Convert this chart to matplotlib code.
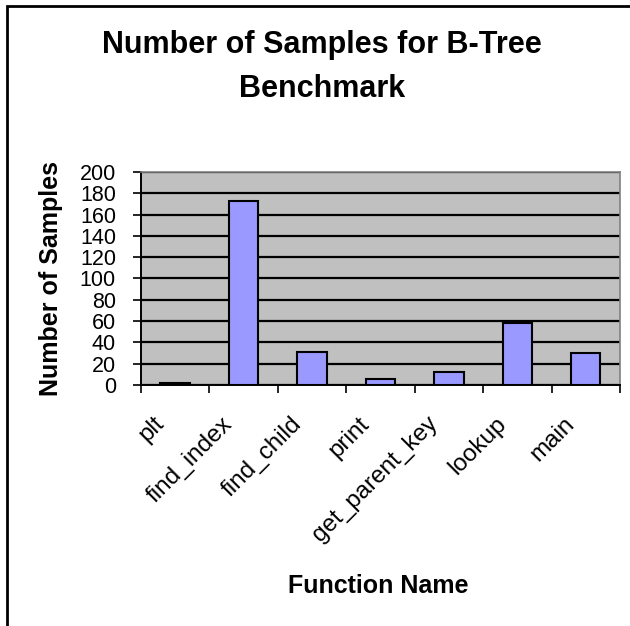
"""Number of samples per function, B-Tree benchmark"""

import numpy as np
import matplotlib.pyplot as plt
import matplotlib.transforms as mtransforms
from matplotlib.patches import Rectangle

plt.rcParams['font.family'] = ['Liberation Sans', 'DejaVu Sans']

# Data
functions = ['plt', 'find_index', 'find_child', 'print',
             'get_parent_key', 'lookup', 'main']
samples = [2, 173, 31, 6, 12, 58, 30]
y_ticks = list(range(0, 201, 20))

fig = plt.figure(figsize=(6.3, 6.26), dpi=100)
ax = fig.add_axes([0.2238, 0.385, 0.7603, 0.3403])

x = np.arange(len(functions))
ax.set_facecolor('#C0C0C0')
ax.bar(x, samples, width=0.43, color='#9999FF', edgecolor='black',
       linewidth=1.5, zorder=3)

# horizontal gridlines, Excel style
ax.set_ylim(0, 200)
ax.set_yticks(y_ticks)
ax.yaxis.grid(True, color='black', linewidth=1.6, zorder=1)
ax.set_axisbelow(True)
ax.tick_params(axis='y', direction='out', length=6, width=1.2,
               labelsize=15.5, pad=12)

# categories: labels at centres, ticks at boundaries
ax.set_xlim(-0.5, len(functions) - 0.5)
ax.set_xticks(x)
ax.set_xticklabels(functions, rotation=45, ha='right', va='top',
                   rotation_mode='anchor', fontsize=17.5)
ax.tick_params(axis='x', which='major', length=0, pad=20)
shift = mtransforms.ScaledTranslation(-22 / 100, 0, fig.dpi_scale_trans)
for lbl in ax.get_xticklabels():
    lbl.set_transform(lbl.get_transform() + shift)
ax.set_xticks(np.arange(-0.5, len(functions), 1), minor=True)
ax.tick_params(axis='x', which='minor', direction='out', length=6, width=1.2)

for side in ('top', 'right'):
    ax.spines[side].set_color('#808080')
    ax.spines[side].set_linewidth(1.2)
for side in ('left', 'bottom'):
    ax.spines[side].set_color('black')
    ax.spines[side].set_linewidth(1.4)

ax.set_ylabel('Number of Samples', fontsize=18, fontweight='bold', labelpad=12)
fig.text(0.601, 1 - 586 / 626, 'Function Name', fontsize=18,
         fontweight='bold', ha='center', va='center')
fig.text(0.511, 1 - 67 / 626, 'Number of Samples for B-Tree\nBenchmark',
         fontsize=22, fontweight='bold', ha='center', va='center',
         linespacing=1.6)

# chart-area border (cut off at right and bottom, as in the source)
fig.patches.append(Rectangle((7 / 630, -0.1), 1.2, 1 - 6 / 626 + 0.1,
                             transform=fig.transFigure, fill=False,
                             edgecolor='black', linewidth=2))

fig.savefig('out.png', dpi=100)
